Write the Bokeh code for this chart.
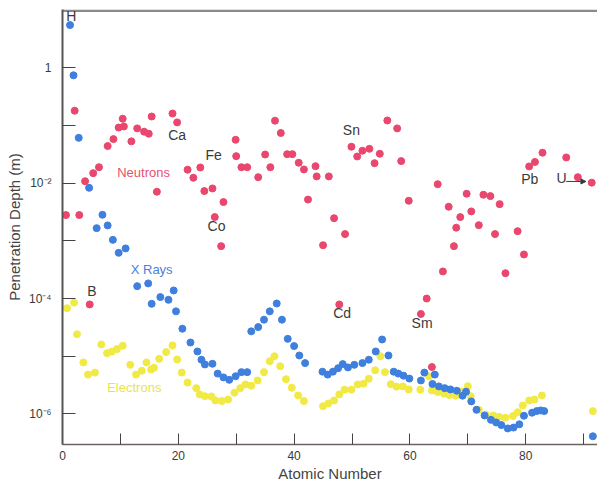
from bokeh.plotting import figure
from bokeh.models import (Range1d, FixedTicker, CustomJSTickFormatter, Arrow,
                          NormalHead, ColumnDataSource)
from bokeh.embed import file_html
from bokeh.resources import INLINE
from bokeh.core.properties import value

# ---------------- data ----------------
neutron_z = [0.6, 2.1, 2.9, 3.9, 4.7, 5.3, 6.3, 7.8, 8.8, 9.7, 10.4, 10.6, 11.9, 12.9, 14.1,
             14.9, 15.4, 16.3, 19.0, 19.8, 21.6, 22.6, 23.8, 24.5, 25.9, 26.3, 27.4, 27.8,
             29.9, 30.0, 30.9, 31.9, 33.8, 35.0, 35.9, 36.7, 37.7, 38.8, 39.7, 40.8, 41.7,
             42.4, 43.7, 43.9, 45.0, 46.0, 46.9, 47.8, 48.8, 49.9, 50.9, 51.8, 53.0, 53.9,
             54.8, 56.1, 57.8, 58.5, 59.8, 61.9, 62.9, 63.8, 64.8, 65.7, 66.7, 67.6, 68.0,
             68.7, 69.8, 70.6, 71.9, 72.7, 73.9, 74.7, 75.5, 76.5, 78.6, 79.7, 80.6, 81.6,
             82.9, 87.0, 89.0, 91.4]
neutron_depth = [2.8e-3, 0.18, 2.8e-3, 1.08e-2, 7.9e-5, 1.49e-2, 1.89e-2, 4.4e-2, 5.8e-2,
                 9.2e-2, 0.131, 9.6e-2, 5.3e-2, 8.9e-2, 7.8e-2, 7.2e-2, 0.143, 7.1e-3, 0.161,
                 0.113, 1.71e-2, 1.24e-2, 1.87e-2, 7.3e-3, 8.1e-3, 2.58e-3, 8.1e-4, 4.7e-3,
                 5.65e-2, 2.94e-2, 1.89e-2, 1.89e-2, 1.27e-2, 3.14e-2, 1.89e-2, 0.121, 7.4e-2,
                 3.18e-2, 3.18e-2, 2.26e-2, 1.73e-2, 5.2e-3, 1.97e-2, 1.31e-2, 8.4e-4, 1.31e-2,
                 2.47e-3, 7.9e-5, 1.31e-3, 4.28e-2, 2.9e-2, 3.65e-2, 3.94e-2, 2.22e-2, 3.23e-2,
                 0.122, 8.9e-2, 2.41e-2, 4.95e-3, 5.4e-5, 1.0e-4, 6.5e-6, 9.6e-3, 2.95e-4,
                 3.9e-3, 8.1e-4, 1.69e-3, 2.58e-3, 6.55e-3, 3.24e-3, 1.87e-3, 6.3e-3, 5.96e-3,
                 1.31e-3, 4.33e-3, 2.75e-4, 1.47e-3, 5.8e-4, 1.95e-2, 2.33e-2, 3.37e-2,
                 2.79e-2, 1.27e-2, 1.02e-2]

xray_z = [1.3, 1.9, 2.8, 4.6, 5.9, 6.9, 7.8, 8.7, 9.7, 10.9, 12.9, 14.8, 15.4, 16.9, 18.3,
          19.2, 19.6, 20.7, 22.1, 23.3, 24.0, 24.6, 25.9, 26.8, 27.8, 28.8, 29.9, 30.9, 31.9,
          32.6, 33.8, 34.8, 35.8, 37.0, 37.9, 38.9, 40.0, 40.9, 41.9, 44.9, 45.8, 46.7, 47.6,
          48.4, 49.3, 50.4, 51.8, 52.9, 54.1, 55.2, 56.3, 57.2, 58.0, 58.9, 59.9, 61.9, 62.5,
          63.9, 64.3, 65.0, 66.0, 67.0, 68.1, 69.1, 69.7, 70.6, 71.5, 72.9, 74.0, 74.9, 75.8,
          76.9, 77.9, 78.9, 79.7, 81.1, 81.9, 82.6, 83.2, 91.6]
xray_depth = [5.5, 0.74, 6.1e-2, 8.3e-3, 1.66e-3, 2.83e-3, 1.85e-3, 1.04e-3, 6.2e-4, 7.4e-4,
              1.64e-4, 1.83e-4, 8.1e-5, 1.06e-4, 9.5e-5, 1.38e-4, 6.0e-5, 3.0e-5, 1.73e-5,
              1.21e-5, 8.7e-6, 7.2e-6, 7.4e-6, 5.0e-6, 4.3e-6, 3.9e-6, 4.5e-6, 5.3e-6, 5.3e-6,
              2.7e-5, 3.2e-5, 4.3e-5, 6.0e-5, 8.2e-5, 4.3e-5, 2.0e-5, 1.5e-5, 1.03e-5, 7.6e-6,
              5.4e-6, 4.8e-6, 5.4e-6, 6.2e-6, 7.3e-6, 6.4e-6, 7.1e-6, 7.6e-6, 8.7e-6, 1.21e-5,
              1.95e-5, 1.03e-5, 5.4e-6, 5.0e-6, 4.6e-6, 4.1e-6, 3.8e-6, 5.2e-6, 3.3e-6, 4.8e-6,
              3.0e-6, 2.8e-6, 2.66e-6, 2.52e-6, 2.07e-6, 2.43e-6, 1.65e-6, 1.18e-6, 9.4e-7,
              7.9e-7, 7.1e-7, 6.4e-7, 5.6e-7, 5.8e-7, 6.6e-7, 9.3e-7, 1.05e-6, 1.12e-6,
              1.15e-6, 1.12e-6, 4.1e-7]

electron_z = [0.8, 2.0, 2.5, 3.6, 4.4, 5.6, 6.7, 7.7, 8.5, 9.4, 10.4, 11.7, 12.7, 13.7, 14.5,
              15.3, 15.8, 16.7, 17.9, 19.0, 19.8, 20.6, 21.6, 23.1, 23.7, 24.6, 25.7, 26.4,
              27.5, 28.6, 29.7, 30.7, 31.6, 32.6, 33.7, 34.8, 35.8, 36.6, 37.6, 38.6, 39.6,
              40.7, 41.7, 45.0, 45.9, 46.9, 47.8, 48.7, 49.9, 51.0, 52.0, 52.9, 54.0, 54.9,
              55.7, 56.7, 57.7, 58.8, 59.8, 61.8, 63.3, 63.8, 64.8, 65.9, 66.8, 67.9, 68.9,
              70.0, 70.5, 71.9, 73.1, 74.4, 75.4, 76.5, 77.8, 78.6, 79.5, 80.6, 81.5, 82.8, 91.6]
electron_depth = [6.8e-5, 8.5e-5, 2.4e-5, 7.8e-6, 4.8e-6, 5.2e-6, 1.6e-5, 1.13e-5, 1.2e-5,
                  1.33e-5, 1.52e-5, 7.1e-6, 4.8e-6, 5.6e-6, 7.8e-6, 5.9e-6, 6.3e-6, 9.0e-6,
                  1.18e-5, 1.54e-5, 8.8e-6, 5.2e-6, 3.5e-6, 2.8e-6, 2.18e-6, 2.03e-6, 2.01e-6,
                  1.71e-6, 1.67e-6, 1.78e-6, 2.33e-6, 2.8e-6, 3.24e-6, 3.08e-6, 3.8e-6, 5.3e-6,
                  8.2e-6, 1.0e-5, 6.7e-6, 4.0e-6, 2.85e-6, 2.09e-6, 1.67e-6, 1.36e-6, 1.52e-6,
                  1.71e-6, 2.18e-6, 2.63e-6, 2.63e-6, 3.24e-6, 3.34e-6, 4.07e-6, 5.7e-6, 1.0e-5,
                  5.3e-6, 3.28e-6, 2.97e-6, 3.0e-6, 2.66e-6, 2.63e-6, 4.47e-6, 2.55e-6, 2.39e-6,
                  2.24e-6, 2.12e-6, 2.07e-6, 2.45e-6, 3.03e-6, 2.03e-6, 1.18e-6, 9.7e-7, 9.4e-7,
                  8.9e-7, 8.6e-7, 9.2e-7, 1.07e-6, 1.4e-6, 1.71e-6, 1.78e-6, 2.09e-6, 1.12e-6]

element_labels = ["H", "B", "Ca", "Fe", "Co", "Sn", "Cd", "Sm", "Pb", "U"]
element_label_z = [1.5, 5.1, 19.8, 26.1, 26.6, 49.9, 48.3, 62.1, 80.7, 86.2]
element_label_depth = [8.0, 1.33e-4, 6.9e-2, 3.1e-2, 1.8e-3, 8.2e-2, 5.6e-5, 3.75e-5, 1.19e-2, 1.21e-2]

series_labels = ["Neutrons", "X Rays", "Electrons"]
series_label_z = [14.0, 15.4, 12.4]
series_label_depth = [1.55e-2, 3.2e-4, 2.9e-6]

x_labelled_ticks = [0, 20, 40, 60, 80]
x_plain_ticks = [10, 30, 50, 70, 90]
y_labelled_ticks = [1e-6, 1e-4, 1e-2, 1.0]
y_plain_ticks = [1e-5, 1e-3, 1e-1]

RED = "#e9476d"
BLUE = "#3f7fde"
YELLOW = "#f1ea45"
FONT = "Liberation Sans"
DARK = "#3a3a3a"

x_end = 92.4
y_top = 10 ** 1.01
p = figure(width=597, height=485, y_axis_type="log",
           x_range=Range1d(0, x_end), y_range=Range1d(10 ** -6.53, y_top),
           output_backend="svg", toolbar_location=None,
           min_border_left=62, min_border_right=0, min_border_top=9, min_border_bottom=41)
p.outline_line_color = None
p.xgrid.visible = False
p.ygrid.visible = False
p.background_fill_color = "white"
p.border_fill_color = "white"

# grey top border of the frame, drawn as a segment just inside the top edge
border_x0, border_x1, border_depth = [0.0], [x_end], [10 ** 0.988]
p.segment(x0=border_x0, y0=border_depth, x1=border_x1, y1=border_depth,
          line_color="#8a8a8a", line_width=2.5)

# axes
xa = p.below[0]
xa.ticker = FixedTicker(ticks=x_labelled_ticks, minor_ticks=x_plain_ticks)
xa.major_tick_in = 11
xa.major_tick_out = 0
xa.minor_tick_in = 11
xa.minor_tick_out = 0
xa.axis_line_color = "#6b6360"
xa.axis_line_width = 1.5
xa.major_tick_line_color = "#444444"
xa.minor_tick_line_color = "#444444"
xa.major_label_standoff = 6
xa.axis_label = "Atomic Number"
xa.axis_label_standoff = 2

ya = p.left[0]
ya.ticker = FixedTicker(ticks=y_labelled_ticks, minor_ticks=y_plain_ticks)
ya.formatter = CustomJSTickFormatter(code="""
const e = Math.round(Math.log10(tick));
if (e == 0) return "1";
const m = {"-": "⁻", "0": "⁰", "1": "¹", "2": "²", "3": "³", "4": "⁴",
           "5": "⁵", "6": "⁶", "7": "⁷", "8": "⁸", "9": "⁹"};
return "10" + String(e).split("").map(c => m[c]).join("");
""")
ya.major_tick_in = 13
ya.major_tick_out = 0
ya.minor_tick_in = 13
ya.minor_tick_out = 0
ya.axis_line_color = "#555555"
ya.axis_line_width = 2
ya.major_tick_line_color = "#444444"
ya.minor_tick_line_color = "#444444"
ya.major_label_standoff = 11
ya.axis_label = "Penetration Depth (m)"
ya.axis_label_standoff = 3

for ax in (xa, ya):
    ax.major_label_text_font = FONT
    ax.major_label_text_font_size = "12px"
    ax.major_label_text_color = DARK
    ax.axis_label_text_font = FONT
    ax.axis_label_text_font_size = "15px"
    ax.axis_label_text_font_style = "normal"
    ax.axis_label_text_color = "#444444"

# data
p.scatter(electron_z, electron_depth, size=7, fill_color=YELLOW, line_color=YELLOW)
p.scatter(xray_z, xray_depth, size=7, fill_color=BLUE, line_color=BLUE)
p.scatter(neutron_z, neutron_depth, size=7, fill_color=RED, line_color=RED)

# labels
el_src = ColumnDataSource(dict(x=element_label_z, y=element_label_depth, t=element_labels))
p.text(x="x", y="y", text="t", source=el_src, text_font=value(FONT), text_font_size="14px",
       text_color=DARK, text_align="center", text_baseline="middle")

ser_src = ColumnDataSource(dict(x=series_label_z, y=series_label_depth, t=series_labels,
                                c=["#e8506e", "#4a80dc", "#ebe344"]))
p.text(x="x", y="y", text="t", source=ser_src, text_font=value(FONT), text_font_size="13px",
       text_color="c", text_align="center", text_baseline="middle")

# arrow pointing to U
arrow_z_start, arrow_z_end, arrow_depth = 87.0, 90.4, 1.07e-2
p.add_layout(Arrow(end=NormalHead(size=5, fill_color=DARK, line_color=DARK),
                   x_start=arrow_z_start, y_start=arrow_depth, x_end=arrow_z_end, y_end=arrow_depth,
                   line_color=DARK, line_width=1))

open("out.html", "w").write(file_html(p, INLINE))
